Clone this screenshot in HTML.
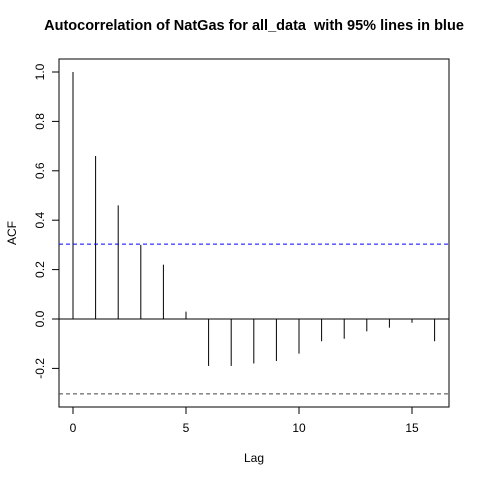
<!DOCTYPE html>
<html><head><meta charset="utf-8"><style>body{margin:0;background:#fff}svg{display:block;font-family:"Liberation Sans",sans-serif}</style></head>
<body>
<svg id="chart" width="480" height="480">
<text x="254" y="30" text-anchor="middle" font-weight="bold" font-size="14.5" style="white-space:pre">Autocorrelation of NatGas for all_data  with 95% lines in blue</text>
<rect x="59" y="59" width="390" height="348" fill="none" stroke="#000"/>
<text x="254" y="462" text-anchor="middle" font-size="12">Lag</text>
<text transform="translate(16,233) rotate(-90)" text-anchor="middle" font-size="12">ACF</text>
<g id="marks"></g>
</svg>
<script>
const lags=[0,1,2,3,4,5,6,7,8,9,10,11,12,13,14,15,16];
const acf=[1,0.66,0.46,0.30,0.22,0.03,-0.19,-0.19,-0.18,-0.17,-0.14,-0.09,-0.08,-0.05,-0.035,-0.015,-0.09];
const ci=[0.303,-0.303];
const xTicks=[0,5,10,15];
const yTicks=[-0.2,0,0.2,0.4,0.6,0.8,1.0];
const yLabels=["-0.2","0.0","0.2","0.4","0.6","0.8","1.0"];
const X=v=>73+v*22.6, Y=v=>319-v*247;
const g=document.getElementById('marks'),NS='http://www.w3.org/2000/svg';
function mk(t,a){const e=document.createElementNS(NS,t);for(const k in a)e.setAttribute(k,a[k]);g.appendChild(e);return e;}
let e=mk('line',{x1:59,x2:449,y1:Y(0),y2:Y(0),stroke:'#000'});


lags.forEach((l,i)=>{const b=mk('line',{x1:X(l),x2:X(l),y1:Y(0),y2:Y(acf[i]),stroke:'#000'});

});
ci.forEach((c,i)=>{const b=mk('line',{x1:59,x2:449,y1:Y(c),y2:Y(c),stroke:i==0?'#0000ff':'#444','stroke-dasharray':'4,3'});

});
xTicks.forEach(t=>{const l=mk('line',{x1:X(t),x2:X(t),y1:407,y2:414,stroke:'#000'});


const s=mk('text',{x:X(t),y:432,'text-anchor':'middle','font-size':12});s.textContent=t;

});
yTicks.forEach((t,i)=>{const l=mk('line',{x1:52,x2:59,y1:Y(t),y2:Y(t),stroke:'#000'});


const s=mk('text',{transform:`translate(44,${Y(t)}) rotate(-90)`,'text-anchor':'middle','font-size':12});s.textContent=yLabels[i];

});
</script>
</body></html>
